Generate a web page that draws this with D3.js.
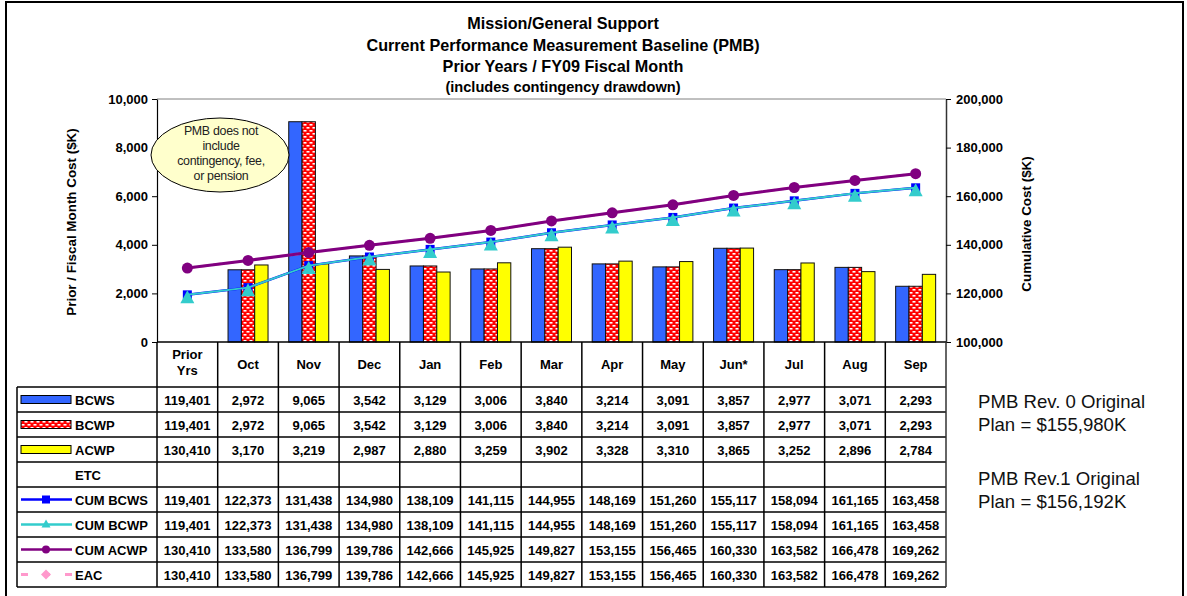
<!DOCTYPE html>
<html>
<head>
<meta charset="utf-8">
<script src="https://cdn.jsdelivr.net/npm/d3@7"></script>
<style>
  html, body { margin: 0; padding: 0; background: #fff; }
  svg { display: block; font-family: "Liberation Sans", Arial, Helvetica, sans-serif; }
</style>
</head>
<body>
<svg id="chart" width="1187" height="596"></svg>
<script>
// ---- Data ($K) ----
const categories = ["Prior Yrs", "Oct", "Nov", "Dec", "Jan", "Feb", "Mar", "Apr", "May", "Jun*", "Jul", "Aug", "Sep"];
const bcws    = [119401, 2972, 9065, 3542, 3129, 3006, 3840, 3214, 3091, 3857, 2977, 3071, 2293];
const bcwp    = [119401, 2972, 9065, 3542, 3129, 3006, 3840, 3214, 3091, 3857, 2977, 3071, 2293];
const acwp    = [130410, 3170, 3219, 2987, 2880, 3259, 3902, 3328, 3310, 3865, 3252, 2896, 2784];
const etc     = [];
const cumBcws = [119401, 122373, 131438, 134980, 138109, 141115, 144955, 148169, 151260, 155117, 158094, 161165, 163458];
const cumBcwp = [119401, 122373, 131438, 134980, 138109, 141115, 144955, 148169, 151260, 155117, 158094, 161165, 163458];
const cumAcwp = [130410, 133580, 136799, 139786, 142666, 145925, 149827, 153155, 156465, 160330, 163582, 166478, 169262];
const eac     = [130410, 133580, 136799, 139786, 142666, 145925, 149827, 153155, 156465, 160330, 163582, 166478, 169262];
const leftTicks  = [0, 2000, 4000, 6000, 8000, 10000];
const rightTicks = [100000, 120000, 140000, 160000, 180000, 200000];
const titleLines = ["Mission/General Support", "Current Performance Measurement Baseline (PMB)", "Prior Years / FY09 Fiscal Month"];
const subTitle = "(includes contingency drawdown)";
const noteLines = ["PMB does not", "include", "contingency, fee,", "or pension"];
const planNotes = [["PMB Rev. 0 Original", "Plan = $155,980K"], ["PMB Rev.1 Original", "Plan = $156,192K"]];

// ---- Layout ----
const plot = { left: 157, right: 946, top: 99, bottom: 342 };
const table = { left: 17, headerBottom: 387, rowH: 25 };
const fmt = d3.format(",");

const svg = d3.select("#chart");
const defs = svg.append("defs");

// red fill with small white dashes for BCWP
const pat = defs.append("pattern").attr("id", "dots")
  .attr("patternUnits", "userSpaceOnUse").attr("width", 6).attr("height", 6);
pat.append("rect").attr("width", 6).attr("height", 6).attr("fill", "#ff0000");
pat.append("rect").attr("x", 0.5).attr("y", 1).attr("width", 3).attr("height", 1.6).attr("fill", "#fff");
pat.append("rect").attr("x", 3.5).attr("y", 4).attr("width", 3).attr("height", 1.6).attr("fill", "#fff");
pat.append("rect").attr("x", -2.5).attr("y", 4).attr("width", 3).attr("height", 1.6).attr("fill", "#fff");

const series = [
  { key: "BCWS", fill: "#3366ff" },
  { key: "BCWP", fill: "url(#dots)" },
  { key: "ACWP", fill: "#ffff00" }
];

// outer frame
svg.append("rect").attr("x", 6).attr("y", 2).attr("width", 1177).attr("height", 610)
  .attr("fill", "none").attr("stroke", "#000").attr("stroke-width", 2);

// titles
const title = svg.append("g").attr("text-anchor", "middle").attr("font-weight", "bold").attr("fill", "#000");
titleLines.forEach((t, i) => {
  title.append("text").attr("x", 563).attr("y", 29 + i * 21.5).attr("font-size", 16.2).text(t);
});
title.append("text").attr("x", 563).attr("y", 92).attr("font-size", 14.6).text(subTitle);

// scales
const x = d3.scaleBand().domain(categories).range([plot.left, plot.right]).padding(0);
const yL = d3.scaleLinear().domain([0, 10000]).range([plot.bottom, plot.top]);
const yR = d3.scaleLinear().domain([100000, 200000]).range([plot.bottom, plot.top]);
const inner = d3.scaleBand().domain(series.map(s => s.key)).range([-20, 20]).padding(0);
const cx = c => x(c) + x.bandwidth() / 2;

// plot top border
svg.append("line").attr("x1", plot.left).attr("x2", plot.right).attr("y1", plot.top).attr("y2", plot.top)
  .attr("stroke", "#808080").attr("stroke-width", 1);

// bars for fiscal months
const barData = { BCWS: bcws, BCWP: bcwp, ACWP: acwp };
const months = categories.slice(1);
const barG = svg.append("g");
series.forEach(s => {
  barG.selectAll(null).data(months).join("rect")
    .attr("x", c => cx(c) + inner(s.key))
    .attr("width", inner.bandwidth())
    .attr("y", c => yL(barData[s.key][categories.indexOf(c)]))
    .attr("height", c => plot.bottom - yL(barData[s.key][categories.indexOf(c)]))
    .attr("fill", s.fill).attr("stroke", "#111").attr("stroke-width", 1);
});

// cumulative lines
const pts = arr => categories.map((c, i) => [cx(c), yR(arr[i])]);
const line = d3.line();
const triPath = (w, h) => `M0,${-h / 2}L${w / 2},${h / 2}L${-w / 2},${h / 2}Z`;
const diamond = r => `M0,${-r}L${r},0L0,${r}L${-r},0Z`;

const lineG = svg.append("g");
lineG.append("path").attr("d", line(pts(eac))).attr("fill", "none")
  .attr("stroke", "#ff99cc").attr("stroke-width", 2.5).attr("stroke-dasharray", "8,5");
lineG.append("path").attr("d", line(pts(cumBcws))).attr("fill", "none")
  .attr("stroke", "#0000ff").attr("stroke-width", 2.5);
lineG.selectAll(null).data(pts(cumBcws)).join("rect")
  .attr("x", d => d[0] - 4.5).attr("y", d => d[1] - 4.5).attr("width", 9).attr("height", 9)
  .attr("fill", "#0000ff");
lineG.append("path").attr("d", line(pts(cumBcwp))).attr("fill", "none")
  .attr("stroke", "#33cccc").attr("stroke-width", 2);
lineG.selectAll(null).data(pts(cumBcwp)).join("path")
  .attr("transform", d => `translate(${d[0]},${d[1] + 2})`)
  .attr("d", triPath(14, 13)).attr("fill", "#33cccc");
lineG.append("path").attr("d", line(pts(cumAcwp))).attr("fill", "none")
  .attr("stroke", "#800080").attr("stroke-width", 3);
lineG.selectAll(null).data(pts(cumAcwp)).join("circle")
  .attr("cx", d => d[0]).attr("cy", d => d[1]).attr("r", 5.5).attr("fill", "#800080");

// axes
const styleAxis = g => {
  g.selectAll("text").attr("font-size", 13).attr("font-weight", "bold").attr("fill", "#000")
    .attr("font-family", "'Liberation Sans', Arial, sans-serif");
  g.selectAll("line").attr("stroke", "#000");
};
svg.append("g").attr("transform", `translate(${plot.left},0)`)
  .call(d3.axisLeft(yL).tickValues(leftTicks).tickFormat(fmt).tickSize(5).tickSizeOuter(0).tickPadding(4))
  .call(g => g.select(".domain").attr("stroke", "#000").attr("stroke-width", 1.2))
  .call(styleAxis);
svg.append("g").attr("transform", `translate(${plot.right},0)`)
  .call(d3.axisRight(yR).tickValues(rightTicks).tickFormat(fmt).tickSize(5).tickSizeOuter(0).tickPadding(5))
  .call(g => g.select(".domain").attr("stroke", "#333").attr("stroke-width", 1.5))
  .call(styleAxis);

// axis titles
svg.append("text").attr("transform", "translate(76,222) rotate(-90)")
  .attr("text-anchor", "middle").attr("font-size", 13.4).attr("font-weight", "bold").text("Prior / Fiscal Month Cost ($K)");
svg.append("text").attr("transform", "translate(1031,224) rotate(-90)")
  .attr("text-anchor", "middle").attr("font-size", 13.4).attr("font-weight", "bold").text("Cumulative Cost ($K)");

// callout ellipse
const note = svg.append("g");
note.append("ellipse").attr("cx", 220).attr("cy", 155).attr("rx", 69).attr("ry", 37)
  .attr("fill", "#ffffcc").attr("stroke", "#000").attr("stroke-width", 1);
noteLines.forEach((t, i) => {
  note.append("text").attr("x", 221).attr("y", 134.5 + i * 15).attr("text-anchor", "middle")
    .attr("font-size", 12.4).attr("fill", "#222").attr("letter-spacing", -0.3).text(t);
});

// data table
const rows = [
  { name: "BCWS", values: bcws, sym: "box", fill: "#3366ff" },
  { name: "BCWP", values: bcwp, sym: "box", fill: "url(#dots)" },
  { name: "ACWP", values: acwp, sym: "box", fill: "#ffff00" },
  { name: "ETC", values: etc, sym: "none" },
  { name: "CUM BCWS", values: cumBcws, sym: "square", color: "#0000ff" },
  { name: "CUM BCWP", values: cumBcwp, sym: "tri", color: "#33cccc" },
  { name: "CUM ACWP", values: cumAcwp, sym: "circle", color: "#800080" },
  { name: "EAC", values: eac, sym: "diamond", color: "#ff99cc" }
];
const tableBottom = table.headerBottom + rows.length * table.rowH;
const tg = svg.append("g");
const gridStroke = "#000";

// header row
categories.forEach((c, i) => {
  const lines = c === "Prior Yrs" ? ["Prior", "Yrs"] : [c];
  lines.forEach((t, j) => {
    tg.append("text").attr("x", cx(c)).attr("text-anchor", "middle")
      .attr("y", lines.length === 2 ? 359 + j * 16 : 369)
      .attr("font-size", 13).attr("font-weight", "bold").text(t);
  });
});

// horizontal rules
tg.append("line").attr("x1", plot.left).attr("x2", plot.right).attr("y1", plot.bottom).attr("y2", plot.bottom)
  .attr("stroke", gridStroke).attr("stroke-width", 1.5);
d3.range(rows.length + 1).forEach(k => {
  const y = table.headerBottom + k * table.rowH;
  tg.append("line").attr("x1", table.left).attr("x2", plot.right).attr("y1", y).attr("y2", y)
    .attr("stroke", gridStroke).attr("stroke-width", 1.5);
});
// vertical rules
tg.append("line").attr("x1", table.left).attr("x2", table.left).attr("y1", table.headerBottom).attr("y2", tableBottom)
  .attr("stroke", gridStroke).attr("stroke-width", 1.5);
categories.forEach(c => {
  tg.append("line").attr("x1", x(c)).attr("x2", x(c)).attr("y1", plot.bottom).attr("y2", tableBottom)
    .attr("stroke", gridStroke).attr("stroke-width", 1.5);
});
tg.append("line").attr("x1", plot.right).attr("x2", plot.right).attr("y1", plot.bottom).attr("y2", tableBottom)
  .attr("stroke", "#333").attr("stroke-width", 1.5);

// rows: legend key, label, values
rows.forEach((r, k) => {
  const yMid = table.headerBottom + k * table.rowH + table.rowH / 2;
  if (r.sym === "box") {
    tg.append("rect").attr("x", 21).attr("y", yMid - 4).attr("width", 50).attr("height", 8)
      .attr("fill", r.fill).attr("stroke", "#000").attr("stroke-width", 1);
  } else if (r.sym !== "none") {
    const ln = tg.append("line").attr("x1", 21).attr("x2", 72).attr("y1", yMid).attr("y2", yMid)
      .attr("stroke", r.color).attr("stroke-width", r.sym === "diamond" ? 3 : 2.5);
    if (r.sym === "diamond") ln.attr("stroke-dasharray", "7,15");
    if (r.sym === "square") {
      tg.append("rect").attr("x", 42).attr("y", yMid - 4).attr("width", 8).attr("height", 8).attr("fill", r.color);
    } else if (r.sym === "tri") {
      tg.append("path").attr("transform", `translate(46,${yMid - 1})`).attr("d", triPath(9, 8)).attr("fill", r.color);
    } else if (r.sym === "circle") {
      tg.append("circle").attr("cx", 46).attr("cy", yMid).attr("r", 4).attr("fill", r.color);
    } else if (r.sym === "diamond") {
      tg.append("path").attr("transform", `translate(46,${yMid})`).attr("d", diamond(5)).attr("fill", r.color);
    }
  }
  tg.append("text").attr("x", 75).attr("y", yMid + 5).attr("font-size", 13).attr("font-weight", "bold").text(r.name);
  r.values.forEach((v, i) => {
    tg.append("text").attr("x", cx(categories[i])).attr("y", yMid + 5).attr("text-anchor", "middle")
      .attr("font-size", 13).attr("font-weight", "bold").text(fmt(v));
  });
});

// plan notes
planNotes.forEach((pair, b) => {
  pair.forEach((t, j) => {
    svg.append("text").attr("x", 978).attr("y", 408 + b * 77 + j * 22.5)
      .attr("font-size", 18.6).attr("fill", "#111").text(t);
  });
});
</script>
</body>
</html>
